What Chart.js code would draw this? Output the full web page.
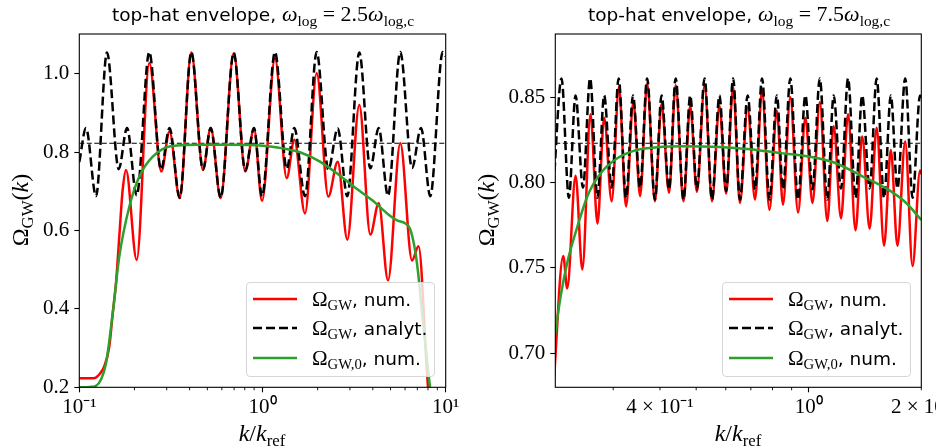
<!DOCTYPE html>
<html>
<head>
<meta charset="utf-8">
<script src="https://cdn.jsdelivr.net/npm/chart.js@4.4.1/dist/chart.umd.min.js"></script>
<style>
  body { margin: 0; width: 936px; height: 448px; overflow: hidden; background: #fff; position: relative; font-family: "DejaVu Sans", sans-serif; color: #000; }
  canvas { position: absolute; top: 0; }
  .title { position: absolute; top: 1px; width: 366px; font-size: 18.5px; line-height: 26px; text-align: center; white-space: nowrap; }
  .m { font-family: "Liberation Serif", serif; font-size: 22px; }
  .m sub { font-size: 70%; vertical-align: -0.3em; line-height: 0; }
  .xlabel { position: absolute; top: 420px; width: 200px; font-family: "Liberation Serif", serif; font-size: 24px; line-height: 26px; text-align: center; }
  .ylabel { position: absolute; top: 197px; width: 160px; font-family: "Liberation Serif", serif; font-size: 24px; line-height: 26px; text-align: center; transform: rotate(-90deg); white-space: nowrap; }
  .legend { position: absolute; top: 282px; width: 189px; height: 95px; border: 1px solid #d6d6d6; border-radius: 4px; background: rgba(255,255,255,0.8); box-sizing: border-box; }
  .row { position: absolute; left: 0; height: 26px; line-height: 26px; font-size: 18.5px; white-space: nowrap; }
  .row svg { position: absolute; left: 6px; top: 10px; }
  .row span.t { position: absolute; left: 65px; }
  .row .m { font-size: 21px; }
</style>
</head>
<body>
<canvas id="left" width="470" height="448" style="left:0px"></canvas>
<canvas id="right" width="520" height="448" style="left:466px"></canvas>

<div class="title" style="left:80px">top-hat envelope, <span class="m"><i>ω</i><sub>log</sub> = 2.5<i>ω</i><sub>log,c</sub></span></div>
<div class="title" style="left:556px">top-hat envelope, <span class="m"><i>ω</i><sub>log</sub> = 7.5<i>ω</i><sub>log,c</sub></span></div>

<div class="ylabel" style="left:-60px">Ω<sub style="font-size:70%;vertical-align:-0.3em;line-height:0">GW</sub>(<i>k</i>)</div>
<div class="ylabel" style="left:406px">Ω<sub style="font-size:70%;vertical-align:-0.3em;line-height:0">GW</sub>(<i>k</i>)</div>

<div class="xlabel" style="left:162px"><i>k</i>/<i>k</i><sub style="font-size:70%;vertical-align:-0.3em;line-height:0">ref</sub></div>
<div class="xlabel" style="left:638px"><i>k</i>/<i>k</i><sub style="font-size:70%;vertical-align:-0.3em;line-height:0">ref</sub></div>

<div class="legend" style="left:246px" id="legLeft"></div>
<div class="legend" style="left:722px" id="legRight"></div>

<script>
// left panel: omega_log = 2.5 omega_log,c
const leftKAnalyt = [0.1, 0.1088, 0.1234, 0.1416, 0.1641, 0.1822, 0.2057, 0.241, 0.2793, 0.3108, 0.3532, 0.4088, 0.4733, 0.5216, 0.591, 0.6965, 0.8055, 0.8986, 0.9938, 1.17, 1.356, 1.492, 1.706, 1.976, 2.287, 2.574, 2.903, 3.376, 3.877, 4.308, 4.842, 5.652, 6.549, 7.333, 8.238, 9.63, 10];
const leftAnalyt = [0.775, 0.862, 0.688, 1.055, 0.757, 0.862, 0.69, 1.056, 0.756, 0.862, 0.684, 1.056, 0.756, 0.862, 0.684, 1.054, 0.754, 0.862, 0.688, 1.056, 0.758, 0.862, 0.688, 1.056, 0.756, 0.861, 0.688, 1.055, 0.759, 0.862, 0.689, 1.056, 0.76, 0.862, 0.688, 1.056, 1.045];

const leftKRed = [0.1, 0.1218, 0.1297, 0.1364, 0.1458, 0.1522, 0.1586, 0.1653, 0.1725, 0.1799, 0.2057, 0.241, 0.2804, 0.3108, 0.3532, 0.4088, 0.4733, 0.5216, 0.591, 0.6965, 0.8055, 0.8986, 0.9938, 1.17, 1.356, 1.492, 1.706, 1.976, 2.287, 2.574, 2.903, 3.376, 3.877, 4.308, 4.842, 5.652, 6.549, 7.105, 8.01, 8.42];
const leftRed = [0.223, 0.224, 0.235, 0.252, 0.304, 0.389, 0.466, 0.585, 0.704, 0.755, 0.525, 1.028, 0.751, 0.853, 0.683, 1.055, 0.755, 0.862, 0.683, 1.053, 0.751, 0.86, 0.676, 1.04, 0.734, 0.832, 0.644, 1.002, 0.687, 0.776, 0.577, 0.921, 0.59, 0.67, 0.473, 0.823, 0.524, 0.56, 0.2, 0.12];

const leftKGreen = [0.1, 0.1144, 0.1234, 0.1314, 0.1399, 0.1522, 0.1653, 0.1875, 0.2126, 0.2516, 0.3206, 0.4576, 0.6648, 1.006, 1.294, 1.602, 2.06, 2.649, 3.238, 3.96, 4.903, 5.424, 5.997, 6.384, 6.714, 7.061, 7.517, 8.21, 8.635];
const leftGreen = [0.2, 0.201, 0.204, 0.22, 0.261, 0.389, 0.534, 0.661, 0.738, 0.789, 0.816, 0.819, 0.819, 0.817, 0.81, 0.8, 0.776, 0.74, 0.708, 0.678, 0.64, 0.626, 0.619, 0.605, 0.565, 0.495, 0.365, 0.2, 0.12];

const leftMean = 0.823;
const leftXTicks = [0.1, 1, 10];
const leftXLabels = ["10⁻¹", "10⁰", "10¹"];
const leftMinor = [0.2, 0.3, 0.4, 0.5, 0.6, 0.7, 0.8, 0.9, 2, 3, 4, 5, 6, 7, 8, 9];
const leftYTicks = [0.2, 0.4, 0.6, 0.8, 1.0];

// right panel: omega_log = 7.5 omega_log,c
const rightKAnalyt = [0.2079, 0.2182, 0.2283, 0.2379, 0.249, 0.2602, 0.2723, 0.2837, 0.2971, 0.3102, 0.3246, 0.339, 0.354, 0.3697, 0.3878, 0.404, 0.423, 0.4407, 0.4624, 0.482, 0.5022, 0.5266, 0.5511, 0.5771, 0.6012, 0.6278, 0.6546, 0.6865, 0.7183, 0.7502, 0.785, 0.8219, 0.8532, 0.8927, 0.9363, 0.9797, 1.0233, 1.0706, 1.121, 1.1659, 1.2199, 1.2739, 1.3339, 1.3897, 1.4551, 1.5192, 1.5901, 1.6578, 1.7268, 1.8113, 1.8953, 1.9848, 2.0];
const rightAnalyt = [0.799, 0.861, 0.791, 0.851, 0.797, 0.861, 0.791, 0.851, 0.797, 0.861, 0.791, 0.851, 0.797, 0.861, 0.79, 0.851, 0.796, 0.861, 0.79, 0.851, 0.796, 0.861, 0.79, 0.851, 0.795, 0.861, 0.79, 0.851, 0.796, 0.861, 0.79, 0.851, 0.796, 0.861, 0.79, 0.851, 0.796, 0.861, 0.79, 0.851, 0.7965, 0.861, 0.791, 0.851, 0.7965, 0.861, 0.791, 0.851, 0.7965, 0.861, 0.791, 0.851, 0.849];

const rightKRed = [0.2079, 0.2205, 0.226, 0.2379, 0.2481, 0.2608, 0.2723, 0.2837, 0.2971, 0.3108, 0.3246, 0.3396, 0.354, 0.3697, 0.3878, 0.404, 0.423, 0.4407, 0.4624, 0.482, 0.5022, 0.5266, 0.5511, 0.5771, 0.6012, 0.6278, 0.6546, 0.6865, 0.7183, 0.7502, 0.785, 0.8219, 0.8532, 0.8927, 0.9363, 0.9797, 1.0233, 1.0706, 1.121, 1.1659, 1.2199, 1.2739, 1.3339, 1.3897, 1.4551, 1.5192, 1.5901, 1.6578, 1.7268, 1.8113, 1.8953, 1.9848, 2.0];
const rightRed = [0.682, 0.757, 0.738, 0.804, 0.749, 0.84, 0.776, 0.838, 0.789, 0.856, 0.786, 0.847, 0.792, 0.858, 0.789, 0.846, 0.794, 0.857, 0.789, 0.845, 0.7945, 0.857, 0.789, 0.845, 0.7935, 0.856, 0.788, 0.844, 0.79, 0.854, 0.784, 0.842, 0.787, 0.85, 0.7825, 0.838, 0.788, 0.847, 0.7775, 0.833, 0.779, 0.84, 0.772, 0.827, 0.773, 0.832, 0.763, 0.819, 0.763, 0.824, 0.751, 0.807, 0.805];

const rightKGreen = [0.2079, 0.2169, 0.226, 0.2405, 0.2559, 0.278, 0.3083, 0.3418, 0.3697, 0.451, 0.5781, 0.6965, 0.839, 0.9497, 1.1584, 1.3955, 1.6403, 1.8223, 2.0];
const rightGreen = [0.705, 0.733, 0.753, 0.774, 0.792, 0.8055, 0.8143, 0.8187, 0.8201, 0.8212, 0.8208, 0.8195, 0.8172, 0.816, 0.812, 0.8035, 0.7955, 0.788, 0.778];

const rightMean = 0.823;
const rightXTicks = [0.4, 1, 2];
const rightXLabels = ["4 × 10⁻¹", "10⁰", "2 × 10⁰"];
const rightMinor = [0.3, 0.4, 0.5, 0.6, 0.7, 0.8, 0.9, 2];
const rightYTicks = [0.7, 0.75, 0.8, 0.85];

const legendItems = [
  { color: "#ff0000", dash: "", label: 'Ω<sub>GW</sub>', tail: ", num." },
  { color: "#000000", dash: "9 4", label: 'Ω<sub>GW</sub>', tail: ", analyt." },
  { color: "#2ca02c", dash: "", label: 'Ω<sub>GW,0</sub>', tail: ", num." },
];

const tickFont = { family: "'Liberation Serif', serif", size: 21 };
const lineWidth = 2.5;

function pts(ks, vs) {
  return ks.map((k, i) => ({ x: k, y: vs[i] }));
}

// box around the axes and short minor ticks on the log axis
const frame = {
  id: "frame",
  afterDraw(chart, args, opts) {
    const { ctx, chartArea: a } = chart;
    const x = chart.scales.x;
    ctx.save();
    ctx.strokeStyle = "#000";
    ctx.lineWidth = 1.1;
    ctx.strokeRect(a.left, a.top, a.right - a.left, a.bottom - a.top);
    ctx.lineWidth = 0.9;
    ctx.beginPath();
    opts.minor.forEach((v) => {
      const px = x.getPixelForValue(v);
      ctx.moveTo(px, a.bottom);
      ctx.lineTo(px, a.bottom + 3);
    });
    ctx.stroke();
    ctx.restore();
  },
};

function buildChart(id, p) {
  return new Chart(document.getElementById(id), {
    type: "line",
    data: {
      datasets: [
        { data: pts(p.kGreen, p.green), borderColor: "#2ca02c", borderWidth: lineWidth, order: 0 },
        { data: pts(p.kAnalyt, p.analyt), borderColor: "#000", borderWidth: lineWidth, borderDash: [9, 4], order: 1 },
        { data: pts(p.kRed, p.red), borderColor: "#ff0000", borderWidth: lineWidth, order: 2 },
        { data: [{ x: p.xMin, y: p.mean }, { x: p.xMax, y: p.mean }], borderColor: "#000", borderWidth: 1.1, borderDash: [5, 2.5], order: 3 },
      ],
    },
    options: {
      responsive: false,
      animation: false,
      devicePixelRatio: 1,
      events: [],
      layout: { padding: { top: 34, left: 0, right: p.padRight, bottom: 0 } },
      elements: {
        point: { radius: 0 },
        line: { cubicInterpolationMode: "monotone", fill: false, borderJoinStyle: "round" },
      },
      plugins: { legend: { display: false }, tooltip: { enabled: false }, title: { display: false }, frame: { minor: p.minor } },
      scales: {
        x: {
          type: "logarithmic",
          min: p.xMin,
          max: p.xMax,
          afterBuildTicks: (s) => { s.ticks = p.xTicks.map((v) => ({ value: v })); },
          afterFit: (s) => { s.height = 60.7; },
          ticks: { autoSkip: false, maxRotation: 0, padding: 3, color: "#000", font: tickFont, callback: (v, i) => p.xLabels[i] },
          grid: { drawOnChartArea: false, tickLength: 5, tickWidth: 1.1, tickColor: (c) => (p.major.includes(c.tick.value) ? "#000" : "rgba(0,0,0,0)") },
          border: { display: false },
        },
        y: {
          min: p.yMin,
          max: p.yMax,
          afterBuildTicks: (s) => { s.ticks = p.yTicks.map((v) => ({ value: v })); },
          afterFit: (s) => { s.width = p.yWidth; },
          ticks: { padding: 5, color: "#000", font: tickFont, callback: (v) => v.toFixed(p.digits) },
          grid: { drawOnChartArea: false, tickLength: 5, tickWidth: 1.1, tickColor: "#000" },
          border: { display: false },
        },
      },
    },
    plugins: [frame],
  });
}

function renderLegend(nodeId) {
  document.getElementById(nodeId).innerHTML = legendItems
    .map((item, i) => `<div class="row" style="top:${2.7 + i * 29.7}px">
      <svg width="44" height="6"><line x1="0" y1="3" x2="44" y2="3" stroke="${item.color}" stroke-width="${lineWidth}" stroke-dasharray="${item.dash}"/></svg>
      <span class="t"><span class="m">${item.label}</span>${item.tail}</span></div>`)
    .join("");
}

buildChart("left", {
  kAnalyt: leftKAnalyt, analyt: leftAnalyt, kRed: leftKRed, red: leftRed, kGreen: leftKGreen, green: leftGreen,
  mean: leftMean, xMin: 0.1, xMax: 10, yMin: 0.2, yMax: 1.102,
  xTicks: leftXTicks, xLabels: leftXLabels, major: [0.1, 1, 10], minor: leftMinor,
  yTicks: leftYTicks, digits: 1, yWidth: 79.3, padRight: 24.3,
});

buildChart("right", {
  kAnalyt: rightKAnalyt, analyt: rightAnalyt, kRed: rightKRed, red: rightRed, kGreen: rightKGreen, green: rightGreen,
  mean: rightMean, xMin: 0.21, xMax: 2.0, yMin: 0.68, yMax: 0.887,
  xTicks: rightXTicks, xLabels: rightXLabels, major: [1], minor: rightMinor,
  yTicks: rightYTicks, digits: 2, yWidth: 89.3, padRight: 64.7,
});

renderLegend("legLeft");
renderLegend("legRight");
</script>
</body>
</html>
